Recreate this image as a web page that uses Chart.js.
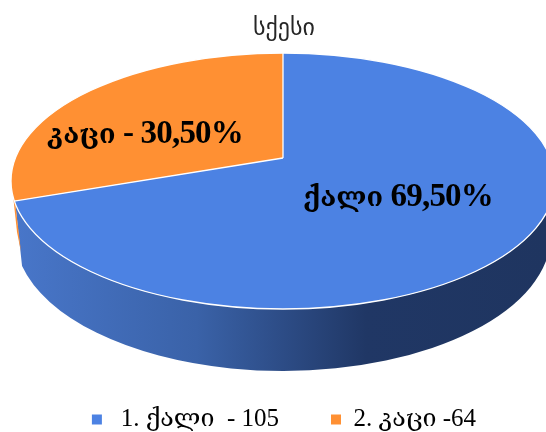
<!DOCTYPE html>
<html><head><meta charset="utf-8">
<style>html,body{margin:0;padding:0;background:#fff;overflow:hidden}canvas{display:block}</style>
<script src="https://cdn.jsdelivr.net/npm/chart.js@4"></script>
</head><body><canvas id="c" width="546" height="432"></canvas>
<script>
const titleText = 'სქესი';
const legendLabels = ['1. ქალი  - 105', '2. კაცი -64'];
const sharePercent = [69.5, 30.5];
const sliceLabels = ['ქალი 69,50%', 'კაცი - 30,50%'];
const sliceColors = ['#4c82e3', '#ff9033'];

const SERIF = '"Liberation Serif","DejaVu Serif","DejaVu Sans",serif';
const apex = {x: 283, y: 158}, squash = 0.445, pieReach = 800;
const top3d = {cx: 283, cy: 181, rx: 272, ry: 128};
const bot3d = {cx: 283, cy: 235, rx: 268, ry: 136};
const labelSpots = [{x: 303, y: 206}, {x: 47, y: 143}];
const legendGap = '\u00A0'.repeat(8);

function ellipsePath(ctx, e){ ctx.beginPath(); ctx.ellipse(e.cx, e.cy, e.rx, e.ry, 0, 0, Math.PI*2); }

function drawMixedLabel(ctx, text, x, y){
  text.split(/([\u10A0-\u10FF]+)/).filter(Boolean).forEach(run => {
    const geo = /[\u10A0-\u10FF]/.test(run);
    ctx.font = geo ? 'bold 27px ' + SERIF : 'bold 33px ' + SERIF;
    ctx.letterSpacing = geo ? '0px' : '-0.8px';
    ctx.fillText(run, x, y);
    x += ctx.measureText(run).width;
  });
}

const pie3d = {
  id: 'pie3d',
  beforeDatasetsDraw(chart){
    const ctx = chart.ctx, arc = chart.getDatasetMeta(0).data[0];
    ctx.save();
    const g = ctx.createLinearGradient(17, 0, 546, 0);
    g.addColorStop(0, '#4876c9');
    g.addColorStop(0.34, '#3a62a8');
    g.addColorStop(0.66, '#203765');
    g.addColorStop(1, '#1f3560');
    ctx.fillStyle = g;
    ctx.beginPath();
    ctx.moveTo(15, 201);
    ctx.ellipse(top3d.cx, top3d.cy, top3d.rx, top3d.ry, 0, Math.PI - 0.15, 0, true);
    ctx.ellipse(bot3d.cx, bot3d.cy, bot3d.rx, bot3d.ry, 0, 0.195, Math.PI - 0.23, false);
    ctx.closePath();
    ctx.fill();
    ctx.fillStyle = sliceColors[1];
    ctx.beginPath();
    ctx.moveTo(13, 195); ctx.lineTo(15, 201); ctx.lineTo(21, 252); ctx.lineTo(17, 232);
    ctx.closePath(); ctx.fill();
    ctx.restore();
    ctx.save();
    ellipsePath(ctx, top3d); ctx.clip();
    const S = pieReach / arc.outerRadius;
    ctx.translate(apex.x, apex.y);
    ctx.scale(S, S * squash);
    ctx.translate(-arc.x, -arc.y);
  },
  afterDatasetsDraw(chart){
    const ctx = chart.ctx, meta = chart.getDatasetMeta(0);
    ctx.restore();
    ctx.save();
    ctx.strokeStyle = '#fff'; ctx.lineWidth = 1.3;
    ellipsePath(ctx, top3d); ctx.stroke();
    ellipsePath(ctx, top3d); ctx.clip();
    meta.data.forEach(a => {
      ctx.beginPath();
      ctx.moveTo(apex.x, apex.y);
      ctx.lineTo(apex.x + Math.cos(a.startAngle)*pieReach, apex.y + Math.sin(a.startAngle)*pieReach*squash);
      ctx.stroke();
    });
    ctx.restore();
    ctx.save();
    ctx.fillStyle = '#000'; ctx.textBaseline = 'alphabetic'; ctx.textAlign = 'left';
    sliceLabels.forEach((t, i) => drawMixedLabel(ctx, t, labelSpots[i].x, labelSpots[i].y));
    ctx.restore();
  }
};

new Chart(document.getElementById('c'), {
  type: 'pie',
  data: {
    labels: legendLabels,
    datasets: [{ data: sharePercent, backgroundColor: sliceColors, borderWidth: 0, clip: false }]
  },
  plugins: [pie3d],
  options: {
    responsive: false, animation: false, devicePixelRatio: 1,
    layout: {padding: {left: 22, bottom: -10}},
    events: [],
    plugins: {
      tooltip: {enabled: false},
      title: {display: true, text: titleText, color: '#262626',
        font: {family: '"DejaVu Sans",sans-serif', size: 24, weight: 'normal'},
        padding: {top: 14, bottom: 6}},
      legend: {position: 'bottom',
        labels: {color: '#000', boxWidth: 10, boxHeight: 10, padding: 2,
          font: {family: SERIF, size: 25},
          generateLabels(chart){
            return Chart.overrides.pie.plugins.legend.labels.generateLabels(chart)
              .map((it, i, all) => ({...it, lineWidth: 0,
                text: i < all.length - 1 ? '\u00A0' + it.text + legendGap : it.text}));
          }}}
    }
  }
});
</script></body></html>
